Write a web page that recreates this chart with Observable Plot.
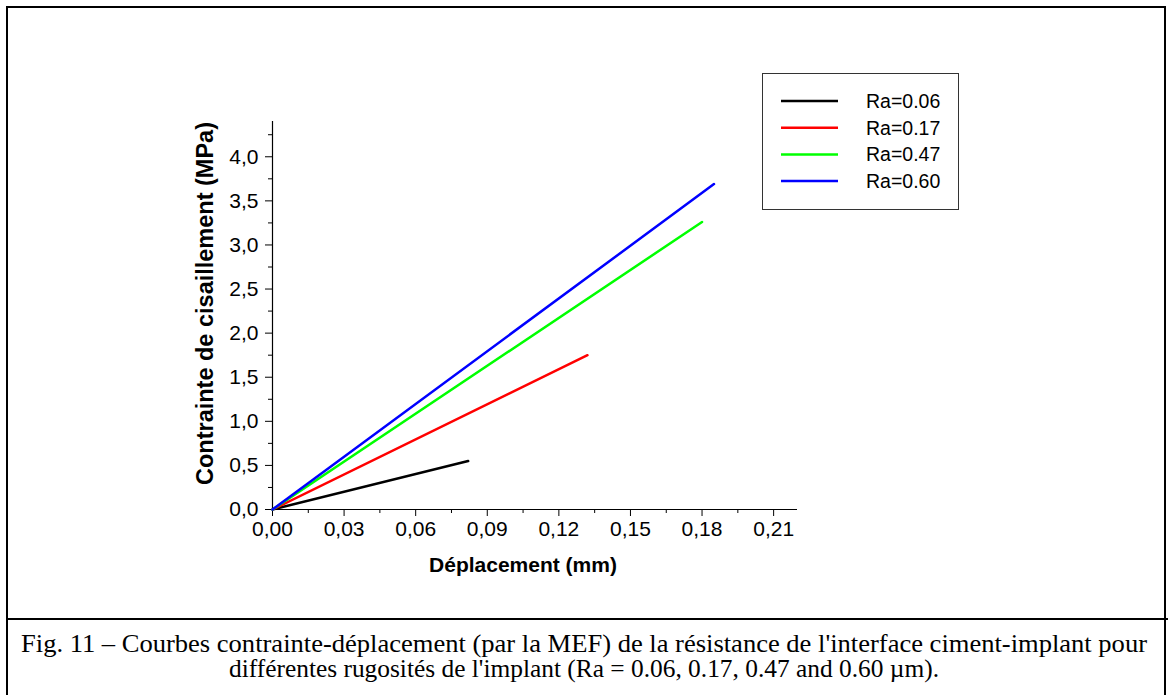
<!DOCTYPE html>
<html><head><meta charset="utf-8">
<script src="https://cdn.jsdelivr.net/npm/d3@7"></script>
<script src="https://cdn.jsdelivr.net/npm/@observablehq/plot@0.6"></script>
<style>
body{margin:0;background:#fff;}
#fig{position:relative;width:1168px;height:695px;overflow:hidden;font-family:"Liberation Sans",Arial,sans-serif;background:#fff;}
#frame{position:absolute;left:6px;top:6px;width:1160px;height:720px;border:2px solid #000;box-sizing:border-box;}
#sep{position:absolute;left:6px;top:618px;width:1162px;height:2px;background:#000;}
#chart{position:absolute;left:0;top:0;}
#legend{position:absolute;left:762px;top:73px;}
#caption{position:absolute;left:0;top:620px;}
</style>
</head><body>
<div id="fig">
  <div id="frame"></div>
  <div id="sep"></div>
  <div id="chart"></div>
  <div id="legend"></div>
  <div id="caption"></div>
</div>
<script>
// ---- data ----
const seriesNames = ["Ra=0.06", "Ra=0.17", "Ra=0.47", "Ra=0.60"];
const seriesColors = ["#000000", "#ff0000", "#00ff00", "#0000ff"];
const dispRa006 = [0, 0.082];   const stressRa006 = [0, 0.55];
const dispRa017 = [0, 0.132];   const stressRa017 = [0, 1.75];
const dispRa047 = [0, 0.180];   const stressRa047 = [0, 3.26];
const dispRa060 = [0, 0.185];   const stressRa060 = [0, 3.69];
const xTicks = [0, 0.03, 0.06, 0.09, 0.12, 0.15, 0.18, 0.21];
const xMinorTicks = [0.015, 0.045, 0.075, 0.105, 0.135, 0.165, 0.195];
const yTicks = [0, 0.5, 1.0, 1.5, 2.0, 2.5, 3.0, 3.5, 4.0];
const yMinorTicks = [0.25, 0.75, 1.25, 1.75, 2.25, 2.75, 3.25, 3.75, 4.25];
const xTitle = "Déplacement (mm)";
const yTitle = "Contrainte de cisaillement (MPa)";
const captionLines = [
  "Fig. 11 – Courbes contrainte-déplacement (par la MEF) de la résistance de l'interface ciment-implant pour",
  "différentes rugosités de l'implant (Ra = 0.06, 0.17, 0.47 and 0.60 µm)."
];

const allDisp = [dispRa006, dispRa017, dispRa047, dispRa060];
const allStress = [stressRa006, stressRa017, stressRa047, stressRa060];
const rows = [];
seriesNames.forEach((s, i) => {
  allDisp[i].forEach((d, j) => rows.push({series: s, disp: d, stress: allStress[i][j]}));
});

const fmtX = d => d.toFixed(2).replace(".", ",");
const fmtY = d => d.toFixed(1).replace(".", ",");

const chart = Plot.plot({
  width: 1168,
  height: 620,
  marginLeft: 272,
  marginRight: 371,
  marginTop: 121,
  marginBottom: 111,
  style: {fontFamily: "'Liberation Sans', Arial, sans-serif", fontSize: "21px", color: "#000", background: "transparent"},
  x: {domain: [0, 0.22]},
  y: {domain: [0, 4.4]},
  color: {domain: seriesNames, range: seriesColors},
  marks: [
    Plot.axisX(xTicks, {tickSize: 7, tickPadding: 5, tickFormat: fmtX, label: null, stroke: "#000", fontSize: 21}),
    Plot.axisX(xMinorTicks, {tickSize: 4, tickFormat: () => "", label: null, stroke: "#000"}),
    Plot.axisY(yTicks, {tickSize: 7, tickPadding: 7, tickFormat: fmtY, label: null, stroke: "#000", fontSize: 21}),
    Plot.axisY(yMinorTicks, {tickSize: 4, tickFormat: () => "", label: null, stroke: "#000"}),
    Plot.ruleX([0], {stroke: "#000", strokeWidth: 1.2}),
    Plot.ruleY([0], {stroke: "#000", strokeWidth: 1.2}),
    Plot.line(rows, {x: "disp", y: "stress", z: "series", stroke: "series", strokeWidth: 2.5}),
    Plot.text([xTitle], {frameAnchor: "bottom", dx: -12, dy: 56, lineAnchor: "middle", textAnchor: "middle", fontWeight: "bold", fontSize: 21, fill: "#000"}),
    Plot.text([yTitle], {frameAnchor: "left", dx: -67, dy: -12, rotate: -90, lineAnchor: "middle", textAnchor: "middle", fontWeight: "bold", fontSize: 23.5, fill: "#000"})
  ]
});
document.getElementById("chart").appendChild(chart);

// ---- legend ----
const lg = d3.select("#legend").append("svg").attr("width", 197).attr("height", 137);
lg.append("rect").attr("x", 0.5).attr("y", 0.5).attr("width", 196).attr("height", 136)
  .attr("fill", "#fff").attr("stroke", "#333").attr("stroke-width", 1);
seriesNames.forEach((s, i) => {
  const y = 28 + i * 26.7;
  lg.append("line").attr("x1", 19).attr("x2", 76).attr("y1", y).attr("y2", y)
    .attr("stroke", seriesColors[i]).attr("stroke-width", 2.5);
  lg.append("text").attr("x", 104).attr("y", y).attr("dy", "0.35em")
    .attr("font-family", "'Liberation Sans', Arial, sans-serif").attr("font-size", 19.5)
    .attr("fill", "#000").text(s);
});

// ---- caption ----
const cap = d3.select("#caption").append("svg").attr("width", 1168).attr("height", 75);
const capLengths = [1126, 710];
captionLines.forEach((t, i) => cap.append("text")
  .attr("x", 584).attr("y", 32 + i * 25).attr("text-anchor", "middle")
  .attr("font-family", "'Liberation Serif', 'Times New Roman', serif").attr("font-size", 25)
  .attr("textLength", capLengths[i]).attr("lengthAdjust", "spacingAndGlyphs")
  .attr("fill", "#000").text(t));
</script>
</body></html>
